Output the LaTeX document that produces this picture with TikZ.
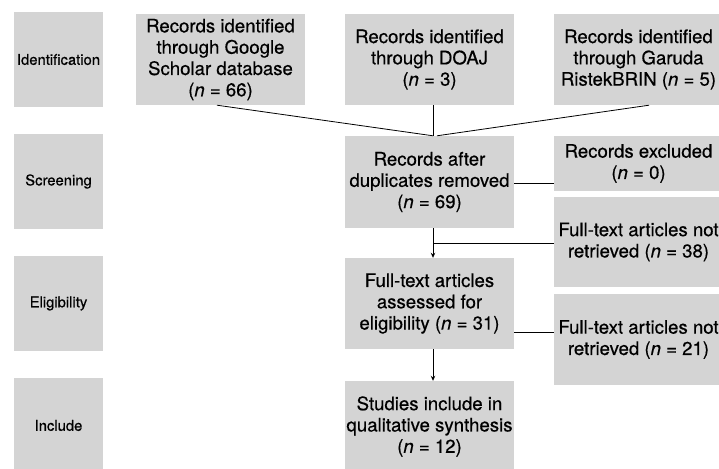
\documentclass[tikz,border=0pt]{standalone}
\usepackage{fontspec}
\setmainfont{TeX Gyre Heros}[FakeBold=0.5]
\usetikzlibrary{arrows.meta,calc}
\definecolor{boxgray}{HTML}{D4D4D4}
\tikzset{
  stage/.style={fill=boxgray,minimum width=89pt,minimum height=95pt,inner sep=0pt,
    font=\fontsize{14.8}{17}\selectfont,align=center},
  box/.style={fill=boxgray,minimum width=169pt,inner sep=0pt,
    font=\fontsize{18.6}{21.3}\selectfont,align=center},
  conn/.style={line width=0.8pt},
  arr/.style={line width=0.8pt,-{Stealth[length=5pt,width=4.5pt]}}
}
\begin{document}
\begin{tikzpicture}[x=1pt,y=-1pt]
\useasboundingbox (0,0) rectangle (719,468);
\begin{scope}
\clip (0,0) rectangle (719,468);
% stage boxes
\node[stage] (sid) at (58.5,59.5) {Identification};
\node[stage] (sscr) at (58.5,181.5) {Screening};
\node[stage] (seli) at (58.5,303.5) {Eligibility};
\node[stage] (sinc) at (58.5,425.5) {Include};
% top row
\node[box,minimum height=91pt] (g) at (220.5,59.5) {Records identified\\through Google\\Scholar database\\(\textit{n} = 66)};
\node[box,minimum height=91pt] (d) at (429.5,59.5) {Records identified\\through DOAJ\\(\textit{n} = 3)};
\node[box,minimum height=91pt] (r) at (638.5,59.5) {Records identified\\through Garuda\\RistekBRIN (\textit{n} = 5)};
% middle column
\node[box,minimum height=92pt] (dup) at (429.5,182) {Records after\\duplicates removed\\(\textit{n} = 69)};
\node[box,minimum height=91pt] (ful) at (429.5,303.5) {Full-text articles\\assessed for\\eligibility (\textit{n} = 31)};
\node[box,minimum height=91pt] (inc) at (429.5,426.5) {Studies include in\\qualitative synthesis\\(\textit{n} = 12)};
% right column
\node[box,minimum height=55pt] (exc) at (638.5,163.5) {Records excluded\\(\textit{n} = 0)};
\node[box,minimum height=90pt] (n38) at (638.5,242) {Full-text articles not\\retrieved (\textit{n} = 38)};
\node[box,minimum height=91pt] (n21) at (638.5,339.5) {Full-text articles not\\retrieved (\textit{n} = 21)};
\end{scope}
% connector coordinates
\coordinate (cx) at (433,0);
\coordinate (merge) at (dup.north -| cx);
\coordinate (split) at ($(dup.south -| cx)!0.5!(ful.north -| cx)$);
\coordinate (ey) at (0,332);
% connectors
\draw[conn] ([xshift=-3.5pt]g.south) -- (merge);
\draw[conn] (d.south -| cx) -- (merge);
\draw[conn] ([xshift=10.5pt]r.south) -- ([xshift=4pt]merge);
\draw[conn] ([yshift=-1pt]dup.east) -- ([yshift=-1pt]dup.east -| exc.west);
\draw[arr] (dup.south -| cx) -- (ful.north -| cx);
\draw[conn] (split) -- (split -| n38.west);
\draw[conn] (ful.east |- ey) -- (n21.west |- ey);
\draw[arr] (ful.south -| cx) -- (inc.north -| cx);
\end{tikzpicture}
\end{document}
